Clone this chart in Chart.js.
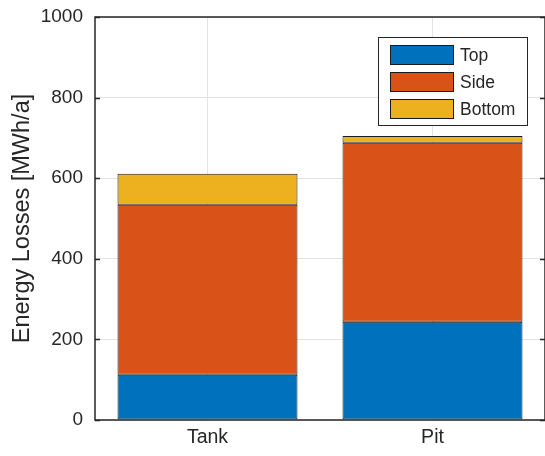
<!DOCTYPE html>
<html>
<head>
<meta charset="utf-8">
<script src="https://cdn.jsdelivr.net/npm/chart.js@4"></script>
<style>
  html, body { margin: 0; padding: 0; background: #fff; }
  #wrap { width: 545px; height: 456px; }
</style>
</head>
<body>
<div id="wrap"><canvas id="c" width="545" height="456"></canvas></div>
<script>
// Storage types on the x axis
const categories = ['Tank', 'Pit'];
// Heat losses per surface, MWh/a
const topLoss = [112, 244];
const sideLoss = [422, 444];
const bottomLoss = [77, 17];
const seriesNames = ['Top', 'Side', 'Bottom'];
const seriesColors = ['#0072BD', '#D95319', '#EDB120'];
const yTicks = [0, 200, 400, 600, 800, 1000];

const axisColor = '#262626';
const gridColor = '#e3e3e3';
const fontFamily = '"Liberation Sans", Arial, Helvetica, sans-serif';

// Axes box, inward tick marks and in-plot legend
const boxPlugin = {
  id: 'boxPlugin',
  afterDraw(chart) {
    const ctx = chart.ctx;
    const a = chart.chartArea;
    const y = chart.scales.y;
    ctx.save();
    ctx.strokeStyle = axisColor;
    ctx.lineWidth = 1.5;
    ctx.strokeRect(a.left, a.top, a.right - a.left, a.bottom - a.top);
    ctx.beginPath();
    yTicks.forEach(v => {
      const py = Math.round(y.getPixelForValue(v)) + 0.5;
      ctx.moveTo(a.left, py); ctx.lineTo(a.left + 5, py);
      ctx.moveTo(a.right, py); ctx.lineTo(a.right - 5, py);
    });
    ctx.stroke();

    // legend
    const lx = 378, ly = 37, lw = 149, lh = 88;
    ctx.fillStyle = '#ffffff';
    ctx.fillRect(lx, ly, lw, lh);
    ctx.strokeStyle = axisColor;
    ctx.lineWidth = 1;
    ctx.strokeRect(lx + 0.5, ly + 0.5, lw, lh);
    ctx.font = '17.5px ' + fontFamily;
    ctx.textBaseline = 'middle';
    ctx.textAlign = 'left';
    chart.data.datasets.forEach((ds, i) => {
      const sy = 45 + i * 27;
      ctx.fillStyle = ds.backgroundColor;
      ctx.fillRect(390, sy, 63, 19);
      ctx.strokeStyle = '#1a1a1a';
      ctx.strokeRect(390.5, sy + 0.5, 63, 19);
      ctx.fillStyle = axisColor;
      ctx.fillText(ds.label, 460, sy + 11);
    });
    ctx.restore();
  }
};

const datasets = [topLoss, sideLoss, bottomLoss].map((vals, i) => ({
  label: seriesNames[i],
  data: vals,
  backgroundColor: seriesColors[i],
  borderColor: '#1a1a1a',
  borderWidth: 1,
  borderSkipped: false,
  categoryPercentage: 1.0,
  barPercentage: 0.8
}));

new Chart(document.getElementById('c'), {
  type: 'bar',
  data: { labels: categories, datasets },
  plugins: [boxPlugin],
  options: {
    responsive: false,
    animation: false,
    devicePixelRatio: 1,
    layout: { padding: { top: 17, right: 0, left: 0, bottom: 0 } },
    plugins: { legend: { display: false }, tooltip: { enabled: false } },
    scales: {
      x: {
        stacked: true,
        offset: true,
        grid: { color: gridColor, offset: false, drawTicks: false },
        border: { display: false },
        ticks: {
          color: axisColor,
          font: { family: fontFamily, size: 19.5 },
          padding: 6
        },
        afterFit(scale) { scale.height = 36; scale.paddingLeft = 0; scale.paddingRight = 0; }
      },
      y: {
        stacked: true,
        min: 0,
        max: 1000,
        grid: { color: gridColor, drawTicks: false },
        border: { display: false },
        afterBuildTicks(scale) { scale.ticks = yTicks.map(v => ({ value: v })); },
        ticks: {
          color: axisColor,
          font: { family: fontFamily, size: 19 },
          padding: 12,
          callback: v => String(v)
        },
        title: {
          display: true,
          text: 'Energy Losses [MWh/a]',
          color: axisColor,
          font: { family: fontFamily, size: 23.5 },
          padding: { top: 8, bottom: 0 }
        },
        afterFit(scale) { scale.width = 95; scale.paddingTop = 0; scale.paddingBottom = 0; }
      }
    }
  }
});
</script>
</body>
</html>
